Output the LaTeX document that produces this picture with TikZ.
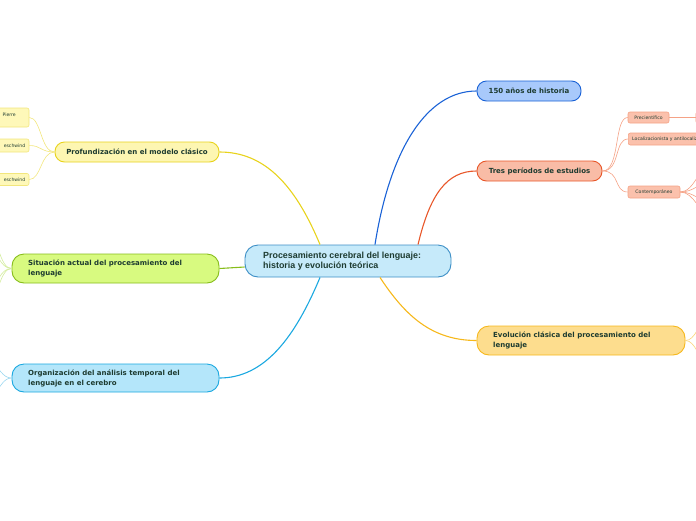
\documentclass[tikz,border=0pt]{standalone}
\usepackage{fontspec}
\setmainfont{DejaVu Sans}
\newfontfamily\arialf{Liberation Sans}
\usetikzlibrary{calc}
\definecolor{txt}{HTML}{1D3B30}
\definecolor{cfill}{HTML}{C6EAFA}\definecolor{cdraw}{HTML}{3D8FC6}
\definecolor{bfill}{HTML}{A8C9FB}\definecolor{bdraw}{HTML}{1A62D6}
\definecolor{ofill}{HTML}{F9BCA6}\definecolor{odraw}{HTML}{E8572A}
\definecolor{efill}{HTML}{FDDD8E}\definecolor{edraw}{HTML}{F6B81C}
\definecolor{pfill}{HTML}{FDF6B2}\definecolor{pdraw}{HTML}{E8D31C}
\definecolor{sfill}{HTML}{D8FA80}\definecolor{sdraw}{HTML}{87BD1B}
\definecolor{gfill}{HTML}{B4E6FA}\definecolor{gdraw}{HTML}{1AA8E0}
\definecolor{sofill}{HTML}{FBC1AC}\definecolor{sodraw}{HTML}{F5A286}
\definecolor{syfill}{HTML}{FEF8B9}\definecolor{sydraw}{HTML}{F2E67C}
\definecolor{slgreen}{HTML}{D3EC9C}\definecolor{slblue}{HTML}{9DD8F0}
\tikzset{
  pill/.style={draw, line width=0.9pt, inner sep=0pt, text=txt},
  lab/.style={font=\bfseries\fontsize{7}{10}\selectfont, text=txt},
  small/.style={draw, line width=0.6pt, rounded corners=2pt, inner sep=0pt, font=\fontsize{4.6}{5.5}\selectfont, text=txt},
  smalltext/.style={font=\fontsize{4.6}{5.5}\selectfont, text=txt, inner sep=0pt},
  main/.style={line width=1.1pt},
  thin/.style={line width=0.6pt}
}
\begin{document}
\begin{tikzpicture}[x=1pt,y=-1pt]
\useasboundingbox (0,0) rectangle (696,520);
\clip (0,0) rectangle (696,520);
% free ends
\coordinate (k1) at (710,165); \coordinate (k2) at (710,182);
\coordinate (k3) at (710,202); \coordinate (k4) at (710,215);
\coordinate (e1) at (705,322); \coordinate (e2) at (705,360);
\coordinate (s1) at (-10,236); \coordinate (s2) at (-10,250);
\coordinate (s3) at (-10,286); \coordinate (s4) at (-10,300);
\coordinate (o1) at (-8,366); \coordinate (o2) at (-8,392);
% central
\node[pill, fill=cfill, draw=cdraw, rounded corners=13pt, minimum width=206pt, minimum height=32pt] (c) at (348,261) {};
% branches
\node[pill, fill=bfill, draw=bdraw, rounded corners=9.5pt, minimum width=104pt, minimum height=20pt] (n150) at (529,91) {};
\node[pill, fill=ofill, draw=odraw, rounded corners=9.5pt, minimum width=125pt, minimum height=20pt] (tres) at (539.5,171) {};
\node[pill, fill=efill, draw=edraw, rounded corners=12pt, minimum width=208pt, minimum height=29pt] (evo) at (581,340.5) {};
\node[pill, fill=pfill, draw=pdraw, rounded corners=9.5pt, minimum width=164pt, minimum height=20pt] (prof) at (137,152) {};
\node[pill, fill=sfill, draw=sdraw, rounded corners=12pt, minimum width=207pt, minimum height=29pt] (sit) at (115.5,268.5) {};
\node[pill, fill=gfill, draw=gdraw, rounded corners=12pt, minimum width=207pt, minimum height=28pt] (org) at (115.5,378) {};
% small orange
\node[small, fill=sofill, draw=sodraw, minimum width=41pt, minimum height=11pt] (prec) at (648.5,117.5) {};
\node[small, fill=sofill, draw=sodraw, minimum width=110pt, minimum height=12pt, anchor=west] (loc) at (628,139) {};
\node[small, fill=sofill, draw=sodraw, minimum width=52pt, minimum height=12pt] (cont) at (654,192) {};
\node[small, fill=sofill, draw=sodraw, minimum width=30pt, minimum height=11pt, anchor=west] (prec2) at (695.5,117.5) {};
% small yellow
\node[small, fill=syfill, draw=sydraw, minimum width=60pt, minimum height=19pt] (y1) at (-1,117.5) {};
\node[small, fill=syfill, draw=sydraw, minimum width=60pt, minimum height=13pt] (y2) at (-1,145.5) {};
\node[small, fill=syfill, draw=sydraw, minimum width=60pt, minimum height=12pt] (y3) at (-1,179.5) {};
% main connectors
\draw[main, draw=bdraw] ($(c.north)+(27,0)$) .. controls +(15,-95) and +(-50,0) .. (n150.west);
\draw[main, draw=odraw] ($(c.north)+(70,0)$) .. controls +(12,-50) and +(-30,0) .. (tres.west);
\draw[main, draw=edraw] ($(c.south)+(32,0)$) .. controls +(25,38) and +(-45,0) .. (evo.west);
\draw[main, draw=pdraw] ($(c.north)+(-28,0)$) .. controls +(-25,-60) and +(45,0) .. (prof.east);
\draw[main, draw=gdraw] ($(c.south)+(-28,0)$) .. controls +(-25,60) and +(45,0) .. (org.east);
\draw[main, draw=sdraw] ($(c.west)+(0,6)$) .. controls +(-12,0) and +(12,0) .. (sit.east);
% small connectors
\draw[thin, draw=sodraw] (tres.east) .. controls +(18,0) and +(-14,0) .. (prec.west);
\draw[thin, draw=sodraw] (tres.east) .. controls +(18,0) and +(-14,0) .. (loc.west);
\draw[thin, draw=sodraw] (tres.east) .. controls +(18,0) and +(-14,0) .. (cont.west);
\draw[thin, draw=sodraw] (prec.east) -- (prec2.west);
\foreach \k in {k1,k2,k3,k4}
  \draw[thin, draw=sodraw] (cont.east) .. controls +(14,0) and +(-10,0) .. (\k);
\foreach \k in {e1,e2}
  \draw[thin, draw=edraw!60] (evo.east) .. controls +(10,0) and +(-6,0) .. (\k);
\foreach \k in {s1,s2,s3,s4}
  \draw[thin, draw=slgreen] (sit.west) .. controls +(-12,0) and +(8,0) .. (\k);
\foreach \k in {o1,o2}
  \draw[thin, draw=slblue] (org.west) .. controls +(-10,0) and +(8,0) .. (\k);
\draw[thin, draw=sydraw] (prof.west) .. controls +(-14,0) and +(12,0) .. (y1.east);
\draw[thin, draw=sydraw] (prof.west) .. controls +(-14,0) and +(12,0) .. (y2.east);
\draw[thin, draw=sydraw] (prof.west) .. controls +(-14,0) and +(12,0) .. (y3.east);
% texts
\node[anchor=west, align=left, inner sep=0pt, text=txt, font=\arialf\bfseries\fontsize{8.9}{10.5}\selectfont] (ct) at (263,261) {Procesamiento cerebral del lenguaje:\\historia y evoluci\'on te\'orica};
\node[lab] (n150t) at (529,91) {150 años de historia};
\node[lab] (trest) at (539.5,171) {Tres períodos de estudios};
\node[lab, anchor=west, align=left, inner sep=0pt] (evot) at (493,340.5) {Evolución clásica del procesamiento del\\lenguaje};
\node[lab] (proft) at (137,152) {Profundización en el modelo clásico};
\node[lab, anchor=west, align=left, inner sep=0pt] (sitt) at (28,268.5) {Situación actual del procesamiento del\\lenguaje};
\node[lab, anchor=west, align=left, inner sep=0pt] (orgt) at (28,378) {Organización del análisis temporal del\\lenguaje en el cerebro};
\node[smalltext] (prect) at (648.5,117.5) {Precientífico};
\node[smalltext, anchor=west] (loct) at (632,139) {Localizacionista y antilocalizacionista};
\node[smalltext] (contt) at (654,192) {Contemporáneo};
\node[smalltext, anchor=east] (y1t) at (16,114.5) {Pierre};
\node[smalltext, anchor=east] (y2t) at (25.5,145.5) {eschwind};
\node[smalltext, anchor=east] (y3t) at (25.5,179.5) {eschwind};
\end{tikzpicture}
\end{document}
